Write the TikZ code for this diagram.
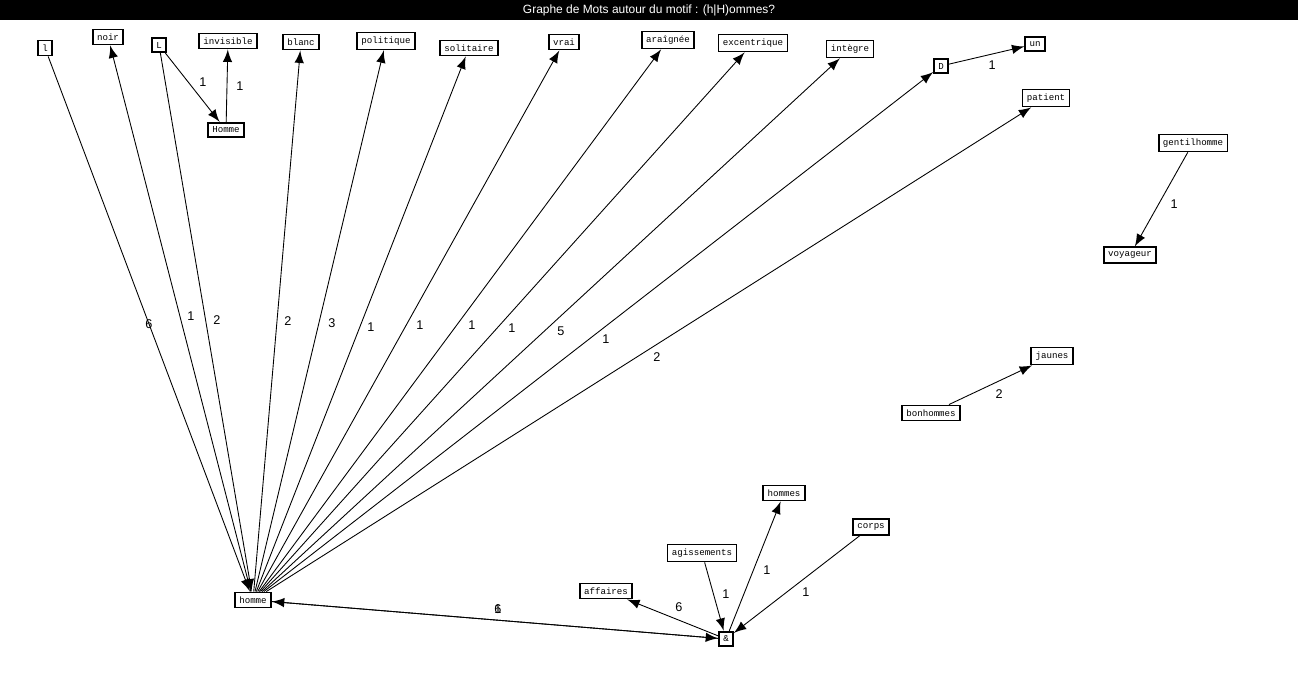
\documentclass[tikz,border=0pt]{standalone}
\usepackage{fontspec}
\setmainfont{Liberation Sans}
\newfontfamily\wordfont{Liberation Mono}
\usetikzlibrary{positioning}
\tikzset{
    word/.style={draw, fill=white, inner sep=1.2pt, line width=0.5pt,
        font=\wordfont\fontsize{2.6}{3}\selectfont},
    link/.style={-latex, line width=0.25pt},
    count/.style={font=\fontsize{3.6}{4}\selectfont}
}
\begin{document}
\begin{tikzpicture}[x=0.01cm, y=-0.01cm]
    \useasboundingbox (0,0) rectangle (1298,679);
    \fill [black] (0,0) rectangle (1298,20);
    \node [white, font=\fontsize{3.4}{4}\selectfont] (title) at (649,10) {Graphe de Mots autour du motif : (h|H)ommes?};

    \node [word] (homme) at (253,600) {homme};
    \node [word] (amp) at (726,639) {\&};
    \node [word] (one) at (45,48) {l};
    \node [word] (noir) at (108,37) {noir};
    \node [word] (L) at (159,45) {L};
    \node [word] (invisible) at (228,41) {invisible};
    \node [word] (Homme) at (226,130) {Homme};
    \node [word] (blanc) at (301,42) {blanc};
    \node [word] (politique) at (386,41) {politique};
    \node [word] (solitaire) at (469,48) {solitaire};
    \node [word] (vrai) at (564,42) {vrai};
    \node [word] (araignee) at (668,40) {araîgnée};
    \node [word] (excentrique) at (753,43) {excentrique};
    \node [word] (integre) at (850,49) {intègre};
    \node [word] (D) at (941,66) {D};
    \node [word] (un) at (1035,44) {un};
    \node [word] (patient) at (1046,98) {patient};
    \node [word] (gentilhomme) at (1193,143) {gentilhomme};
    \node [word] (voyageur) at (1130,255) {voyageur};
    \node [word] (jaunes) at (1052,356) {jaunes};
    \node [word] (bonhommes) at (931,413) {bonhommes};
    \node [word] (hommes) at (784,493) {hommes};
    \node [word] (corps) at (871,527) {corps};
    \node [word] (agissements) at (702,553) {agissements};
    \node [word] (affaires) at (606,591) {affaires};

    % words pointing at homme
    \draw [link] (one) -- (homme) node [count, pos=0.5] at (160,321) {6};
    \draw [link] (L) -- (homme) node [count] at (217,320) {2};
    % homme pointing at words
    \foreach \w/\n/\lx/\ly in {noir/1/191/316, blanc/2/288/321, politique/3/332/323,
        solitaire/1/371/327, vrai/1/420/325, araignee/1/472/325,
        excentrique/1/512/328, integre/5/561/331, D/1/606/339, patient/2/657/357} {
        \draw [link] (homme) -- (\w);
        \node [count] at (\lx,\ly) {\n};
    }
    \draw [link] (L) -- (Homme) node [count] at (203,82) {1};
    \draw [link] (Homme) -- (invisible) node [count] at (240,86) {1};
    \draw [link] (D) -- (un) node [count] at (992,65) {1};
    \draw [link] (gentilhomme) -- (voyageur) node [count] at (1174,204) {1};
    \draw [link] (bonhommes) -- (jaunes) node [count] at (999,394) {2};
    \draw [link] (amp) -- (hommes) node [count] at (767,570) {1};
    \draw [link] (corps) -- (amp) node [count] at (806,592) {1};
    \draw [link] (agissements) -- (amp) node [count] at (726,594) {1};
    \draw [link] (amp) -- (affaires) node [count] at (679,607) {6};
    \draw [link] (homme) -- (amp) node [count] at (498,609) {1};
    \draw [link] (amp) -- (homme) node [count] at (498,609) {6};
\end{tikzpicture}
\end{document}
